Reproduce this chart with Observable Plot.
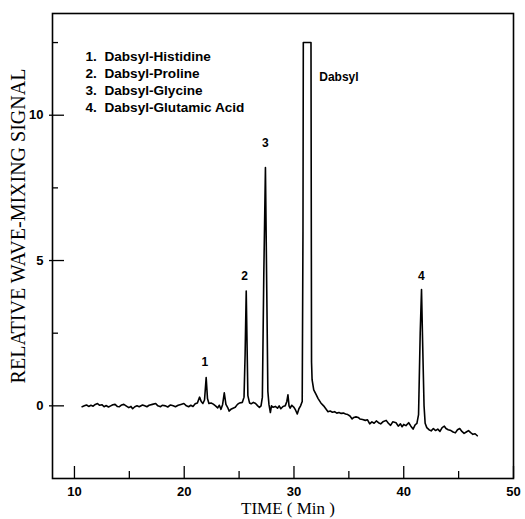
<!DOCTYPE html>
<html><head><meta charset="utf-8">
<script src="https://cdn.jsdelivr.net/npm/d3@7"></script>
<script src="https://cdn.jsdelivr.net/npm/@observablehq/plot@0.6"></script>
<style>body{margin:0;background:#fff}</style>
</head><body><div id="chart"></div>
<script>
// Chromatogram trace (time in min, relative signal)
const time = [10.7,10.9,11.1,11.3,11.5,11.7,11.9,12.1,12.3,12.5,12.7,12.9,13.1,13.3,13.5,13.7,13.9,14.1,14.3,14.5,14.7,14.95,15.15,15.3,15.5,15.7,15.9,16.2,16.4,16.6,16.8,17.1,17.4,17.6,17.85,18.0,18.3,18.5,18.75,19.0,19.2,19.45,19.7,19.97,20.2,20.4,20.6,20.8,21.0,21.2,21.4,21.55,21.7,21.85,22.0,22.12,22.25,22.45,22.65,22.85,23.05,23.2,23.35,23.5,23.65,23.8,23.95,24.1,24.25,24.45,24.65,24.85,25.05,25.3,25.45,25.55,25.65,25.73,25.8,25.95,26.1,26.3,26.5,26.7,26.85,27.0,27.12,27.25,27.4,27.52,27.62,27.72,27.85,27.95,28.1,28.3,28.5,28.65,28.8,29.0,29.2,29.35,29.45,29.55,29.65,29.8,30.0,30.15,30.3,30.45,30.6,30.75,30.82,30.85,31.55,31.6,31.65,31.8,32.0,32.2,32.45,32.7,32.9,33.1,33.3,33.5,33.7,33.9,34.1,34.3,34.5,34.7,34.9,35.1,35.3,35.45,35.65,35.85,36.0,36.25,36.5,36.7,36.9,37.1,37.3,37.5,37.7,37.9,38.1,38.4,38.6,38.8,39.0,39.3,39.5,39.7,39.85,40.0,40.2,40.45,40.65,40.85,41.05,41.2,41.35,41.5,41.62,41.72,41.85,41.95,42.1,42.3,42.5,42.7,42.9,43.1,43.3,43.5,43.7,43.85,44.05,44.3,44.5,44.7,44.9,45.1,45.3,45.5,45.7,45.9,46.1,46.3,46.5,46.7];
const signal = [-0.03,0.0,0.03,-0.02,0.02,-0.01,0.05,0.08,0.02,0.04,-0.03,0.01,-0.04,0.0,0.04,0.05,-0.02,-0.03,0.03,0.05,0.0,-0.06,-0.02,-0.1,-0.03,0.0,-0.03,0.03,0.0,-0.03,0.02,0.05,0.08,0.0,-0.03,0.02,0.0,-0.04,0.03,0.0,-0.03,0.02,0.05,0.08,0.0,-0.03,0.02,-0.02,0.07,0.1,0.3,0.15,0.08,0.2,0.97,0.25,0.08,0.1,0.06,0.0,-0.07,0.02,-0.12,0.05,0.45,0.05,-0.05,-0.18,-0.12,-0.08,-0.05,0.05,0.1,0.12,0.3,1.8,3.95,2.0,0.35,0.1,0.07,0.12,0.08,0.0,-0.05,0.0,0.3,4.5,8.2,4.0,0.5,0.05,-0.23,0.0,-0.05,-0.02,-0.08,0.0,-0.1,-0.02,0.0,0.15,0.38,0.0,-0.08,0.02,-0.05,-0.15,-0.28,-0.1,0.0,0.15,6.0,12.5,12.5,1.5,0.9,0.55,0.4,0.25,0.1,0.0,-0.1,-0.2,-0.18,-0.22,-0.2,-0.25,-0.23,-0.26,-0.25,-0.28,-0.3,-0.35,-0.45,-0.4,-0.38,-0.4,-0.45,-0.47,-0.5,-0.48,-0.62,-0.55,-0.6,-0.52,-0.58,-0.62,-0.55,-0.5,-0.6,-0.67,-0.55,-0.58,-0.7,-0.62,-0.72,-0.64,-0.68,-0.58,-0.7,-0.8,-0.65,-0.6,-0.3,2.5,4.0,2.2,0.0,-0.6,-0.75,-0.82,-0.86,-0.78,-0.85,-0.8,-0.88,-0.75,-0.7,-0.78,-0.82,-0.85,-0.9,-0.93,-0.82,-0.78,-0.88,-0.95,-0.9,-0.85,-0.92,-0.98,-0.96,-1.03];

// Axis ticks
const xTickLabels = [10, 20, 30, 40, 50];
const xMajorTicks = [10, 20, 30, 40, 50];
const xMinorTicks = [15, 25, 35, 45];
const yTickLabels = [0, 5, 10];
const yMajorTicks = [0, 5, 10];
const yMinorTicks = [2.5, 7.5, 12.5];

// Annotations
const legendItems = ["1.  Dabsyl-Histidine", "2.  Dabsyl-Proline", "3.  Dabsyl-Glycine", "4.  Dabsyl-Glutamic Acid"];
const peakLabels = ["1", "2", "3", "4"];
const peakLabelX = [21.88, 25.5, 27.4, 41.6];
const peakLabelY = [1.49, 4.47, 9.04, 4.47];
const mainLabel = "Dabsyl";
const mainLabelX = 32.3;
const mainLabelY = 11.3;
const xTitle = "TIME ( Min )";
const yTitle = "RELATIVE WAVE-MIXING SIGNAL";

const W = 525, H = 519, mL = 52, mR = 12, mT = 13, mB = 41;
const frameW = W - mL - mR, frameH = H - mT - mB;

const trace = time.map((t, i) => ({t, s: signal[i]}));
const peaks = peakLabels.map((label, i) => ({label, x: peakLabelX[i], y: peakLabelY[i]}));

const chart = Plot.plot({
  width: W, height: H,
  marginLeft: mL, marginRight: mR, marginTop: mT, marginBottom: mB,
  x: {domain: [8, 50]},
  y: {domain: [-2.5, 13.5]},
  style: {fontFamily: "'Liberation Sans', Arial, sans-serif", fontSize: "13px", color: "#000", background: "#fff"},
  marks: [
    Plot.frame({stroke: "#000", strokeWidth: 1.6}),
    Plot.ruleX(xMajorTicks, {stroke: "#000", strokeWidth: 1.3, insetTop: frameH - 12}),
    Plot.ruleX(xMinorTicks, {stroke: "#000", strokeWidth: 1.3, insetTop: frameH - 7}),
    Plot.ruleY(yMajorTicks, {stroke: "#000", strokeWidth: 1.3, insetLeft: -3, insetRight: frameW - 12}),
    Plot.ruleY(yMinorTicks, {stroke: "#000", strokeWidth: 1.3, insetRight: frameW - 6}),
    Plot.axisX({ticks: xTickLabels, tickSize: 0, tickPadding: 8, fontWeight: "bold", fontSize: 13, label: null}),
    Plot.axisY({ticks: yTickLabels, tickSize: 0, tickPadding: 9, fontWeight: "bold", fontSize: 13, label: null}),
    Plot.line(trace, {x: "t", y: "s", stroke: "#000", strokeWidth: 1.6, strokeLinejoin: "round"}),
    Plot.text(peaks, {x: "x", y: "y", text: "label", textAnchor: "middle", fontWeight: "bold", fontSize: 12}),
    Plot.text([mainLabel], {x: mainLabelX, y: mainLabelY, textAnchor: "start", fontWeight: "bold", fontSize: 12}),
    Plot.text([legendItems.join("\n")], {frameAnchor: "top-left", dx: 33, dy: 36, textAnchor: "start", lineAnchor: "top", lineHeight: 1.23, fontWeight: "bold", fontSize: 13.6}),
    Plot.text([xTitle], {frameAnchor: "bottom", dx: 5, dy: 30, textAnchor: "middle", lineAnchor: "middle", fontFamily: "'Liberation Serif', 'Times New Roman', serif", fontSize: 17}),
    Plot.text([yTitle], {frameAnchor: "left", rotate: -90, dx: -34, dy: -20, textAnchor: "middle", lineAnchor: "middle", fontFamily: "'Liberation Serif', 'Times New Roman', serif", fontSize: 20})
  ]
});
document.getElementById("chart").appendChild(chart);
</script>
</body></html>
